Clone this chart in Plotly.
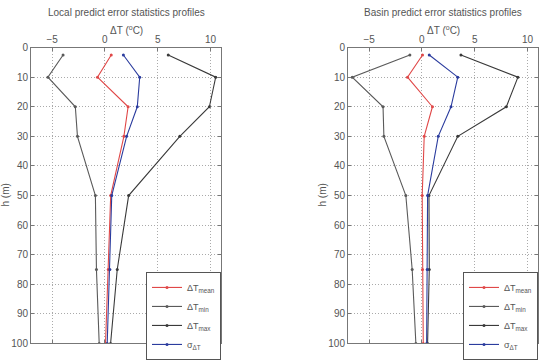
import plotly.graph_objects as go

depth = [2.5, 10, 20, 30, 50, 75, 100]

local_mean = [0.6, -0.7, 2.2, 1.8, 0.55, 0.32, 0.06]
local_min = [-3.96, -5.4, -2.8, -2.6, -0.9, -0.8, -0.54]
local_max = [6.0, 10.5, 9.9, 7.1, 2.25, 1.17, 0.54]
local_std = [1.75, 3.3, 3.07, 2.06, 0.65, 0.47, 0.22]

basin_mean = [0.06, -1.36, 1.0, 0.22, 0.03, 0.06, 0.13]
basin_min = [-1.14, -6.6, -3.68, -3.6, -1.52, -0.92, -0.57]
basin_max = [3.7, 9.1, 8.0, 3.4, 0.67, 0.7, 0.54]
basin_std = [0.7, 3.4, 2.76, 1.55, 0.54, 0.5, 0.45]

names = ["ΔT<sub>mean</sub>", "ΔT<sub>min</sub>", "ΔT<sub>max</sub>", "σ<sub>ΔT</sub>"]
colors = ["#e04848", "#5a5a5a", "#3a3a3a", "#2b3c9e"]

titles = ["Local predict error statistics profiles", "Basin predict error statistics profiles"]
xticks = [-5, 0, 5, 10]
yticks = list(range(0, 101, 10))

W, H = 543, 364
panels = [(31, 221), (348, 538)]
ytop, ybot = 43, 349

fig = go.Figure()
series_sets = [[local_mean, local_min, local_max, local_std],
               [basin_mean, basin_min, basin_max, basin_std]]
for p, sers in enumerate(series_sets):
    xa = "x" if p == 0 else "x2"
    ya = "y" if p == 0 else "y2"
    lg = "legend" if p == 0 else "legend2"
    for name, col, vals in zip(names, colors, sers):
        fig.add_trace(go.Scatter(
            x=vals, y=depth, mode="lines+markers", name=name,
            line=dict(color=col, width=1.1), marker=dict(color=col, size=3),
            xaxis=xa, yaxis=ya, legend=lg, showlegend=True))

font = dict(family="Liberation Sans, Arial, sans-serif", size=10, color="#555")
ax_common = dict(showline=True, linecolor="#777", linewidth=1, mirror="allticks",
                 ticks="inside", ticklen=3, tickcolor="#777",
                 showgrid=True, gridcolor="#aaa", griddash="1px,2px", gridwidth=1,
                 zeroline=False, tickfont=font)

layout = dict(width=W, height=H, margin=dict(l=0, r=0, t=0, b=0),
              paper_bgcolor="white", plot_bgcolor="white", font=font,
              annotations=[])
for p, (x0, x1) in enumerate(panels):
    suf = "" if p == 0 else "2"
    dom_x = [x0 / W, x1 / W]
    dom_y = [1 - ybot / H, 1 - ytop / H]
    layout["xaxis" + suf] = dict(ax_common, domain=dom_x, range=[-7, 11], side="top",
                                 tickvals=xticks, anchor="y" + suf)
    layout["yaxis" + suf] = dict(ax_common, domain=dom_y, range=[100, 0],
                                 tickvals=yticks, anchor="x" + suf)
    cx = (x0 + x1) / 2 / W
    layout["annotations"] += [
        dict(text=titles[p], x=cx, y=1 - 7 / H, xref="paper", yref="paper",
             showarrow=False, xanchor="center", yanchor="middle",
             font=dict(family=font["family"], size=10, color="#555")),
        dict(text="ΔT (<sup>o</sup>C)", x=cx, y=1 - 25 / H, xref="paper", yref="paper",
             showarrow=False, xanchor="center", yanchor="middle",
             font=dict(family=font["family"], size=10, color="#555")),
        dict(text="h (m)", x=(x0 - 25) / W, y=(1 - (ytop + ybot) / 2 / H), xref="paper",
             yref="paper", showarrow=False, textangle=-90, xanchor="center",
             yanchor="middle", font=dict(family=font["family"], size=10, color="#555")),
    ]
    leg = dict(x=x1 / W, y=1 - 275 / H, xanchor="right", yanchor="top",
               bgcolor="white", bordercolor="#555", borderwidth=1,
               font=dict(family=font["family"], size=9, color="#555"),
               itemwidth=30, tracegroupgap=0)
    layout["legend" + suf] = leg

fig.update_layout(**layout)
fig.write_html("out.html")
